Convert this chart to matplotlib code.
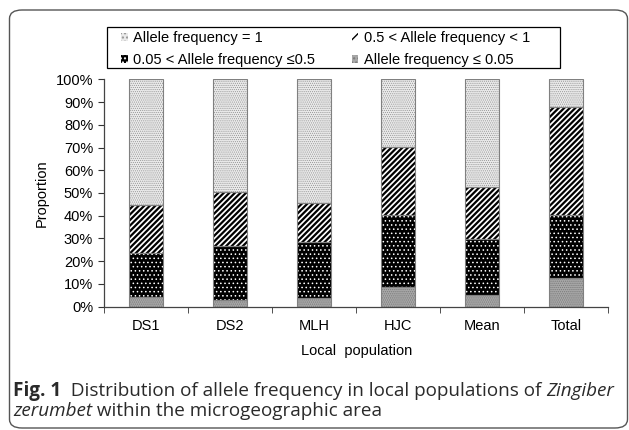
import matplotlib
matplotlib.use("Agg")
import matplotlib.pyplot as plt
from matplotlib.patches import FancyBboxPatch, Patch, Rectangle
import numpy as np

categories = ["DS1", "DS2", "MLH", "HJC", "Mean", "Total"]
freq_le_005 = [4.4, 2.9, 3.8, 8.5, 5.0, 12.8]
freq_005_05 = [19.3, 23.8, 24.8, 31.7, 24.8, 27.4]
freq_05_1 = [21.0, 23.7, 16.9, 29.9, 23.0, 47.5]
freq_eq_1 = [55.3, 49.6, 54.5, 29.9, 47.2, 12.3]
yticks = [0, 10, 20, 30, 40, 50, 60, 70, 80, 90, 100]
label_eq_1 = "Allele frequency = 1"
label_05_1 = "0.5 < Allele frequency < 1"
label_005_05 = "0.05 < Allele frequency \u22640.5"
label_le_005 = "Allele frequency \u2264 0.05"

W, H = 629, 430
FS = 10.5
fig = plt.figure(figsize=(W / 100, H / 100), dpi=100)
fig.patch.set_facecolor("white")

ax = fig.add_axes([104.3 / W, 1 - 306.7 / H, 504 / W, 227.4 / H])
x = np.arange(len(categories))
bw = 0.405
edge = "#808080"

series = [
    (freq_le_005, "#a8a8a8", "#7a7a7a", "........", 0.6),
    (freq_005_05, "black", "white", "....", 0.6),
    (freq_05_1, "white", "black", "//////", 1.6),
    (freq_eq_1, "#eaeaea", "#959595", "........", 0.5),
]
bottom = np.zeros(len(categories))
handles = []
for vals, fc, hc, hatch, hlw in series:
    plt.rcParams['hatch.linewidth'] = hlw
    vals = np.array(vals)
    ax.bar(x, vals, bw, bottom=bottom, facecolor=fc, edgecolor=hc,
           hatch=hatch, linewidth=0, zorder=2)
    ax.bar(x, vals, bw, bottom=bottom, facecolor="none", edgecolor=edge,
           linewidth=0.8, zorder=3)
    handles.append(Patch(facecolor=fc, edgecolor=hc, hatch=hatch[:4], linewidth=0))
    bottom += vals
plt.rcParams['hatch.linewidth'] = 1.0

ax.set_xlim(-0.5, len(categories) - 0.5)
ax.set_ylim(0, 100)
ax.set_yticks(yticks)
ax.set_yticklabels([f"{v}%" for v in yticks])
ax.set_xticks(x)
ax.set_xticklabels(categories)
ax.set_xticks(np.arange(-0.5, len(categories), 1.0), minor=True)
ax.tick_params(axis="x", which="major", length=0, pad=9)
ax.tick_params(axis="x", which="minor", length=4, direction="out", color="#333333")
ax.tick_params(axis="y", length=4, direction="out", color="#333333", pad=4)
for lab in ax.get_xticklabels() + ax.get_yticklabels():
    lab.set_fontfamily("Liberation Sans")
    lab.set_fontsize(FS)
for s in ["top", "right"]:
    ax.spines[s].set_visible(False)
for s in ["left", "bottom"]:
    ax.spines[s].set_color("#444444")
    ax.spines[s].set_linewidth(0.9)
ax.set_ylabel("Proportion", fontfamily="Liberation Sans", fontsize=FS, labelpad=5)
ax.set_xlabel("Local  population", fontfamily="Liberation Sans", fontsize=FS, labelpad=8)

# legend (column-major fill: col1 = eq_1, 005_05 ; col2 = 05_1, le_005)
leg_handles = [handles[3], handles[1], handles[2], handles[0]]
leg_labels = [label_eq_1, label_005_05, label_05_1, label_le_005]
leg = fig.legend(leg_handles, leg_labels, ncol=2,
                 loc="upper left", bbox_to_anchor=(121 / W, 1 - 31 / H),
                 frameon=False,
                 prop={"family": "Liberation Sans", "size": FS},
                 handlelength=0.45, handleheight=0.45, handletextpad=0.35,
                 borderpad=0.0, labelspacing=0.55, borderaxespad=0, columnspacing=2.55)
fig.patches.append(Rectangle((107.3 / W, 1 - 68.3 / H), (560 - 107.3) / W, (68.3 - 26.7) / H,
                             transform=fig.transFigure, facecolor="none",
                             edgecolor="black", linewidth=0.9))

frame = FancyBboxPatch((9.5 / W, 2 / H), (627.5 - 9.5) / W, (420 - 2) / H,
                       boxstyle="round,pad=0,rounding_size=0.02",
                       transform=fig.transFigure, facecolor="none",
                       edgecolor="#555555", linewidth=1.0)
fig.patches.append(frame)

fig.canvas.draw()
renderer = fig.canvas.get_renderer()
cap_fs = 13.6
def put(xpx, ypx, s, **kw):
    t = fig.text(xpx / W, 1 - ypx / H, s, fontsize=cap_fs, color="#2a2a2a",
                 fontfamily="Open Sans", va="baseline", ha="left", **kw)
    bb = t.get_window_extent(renderer=renderer)
    return xpx + bb.width

xp = put(13, 396, "Fig. 1", fontweight="bold")
xp = put(xp, 396, "  Distribution of allele frequency in local populations of ")
put(xp, 396, "Zingiber", fontstyle="italic")
xp = put(13, 416, "zerumbet", fontstyle="italic")
put(xp, 416, " within the microgeographic area")

fig.savefig("out.png", dpi=100)
